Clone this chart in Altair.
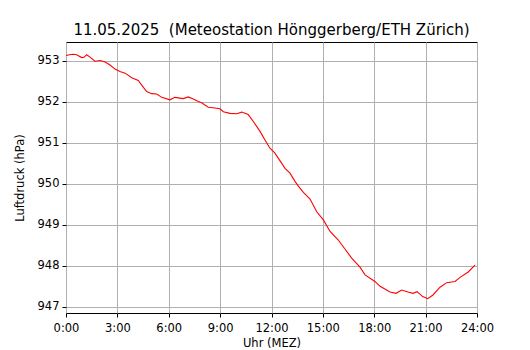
import altair as alt
import pandas as pd

hours = [0.0, 0.2, 0.43, 0.62, 0.92, 1.05, 1.21, 1.4, 1.69, 1.99, 2.28, 2.57, 2.86, 3.15, 3.45,
         3.84, 4.22, 4.42, 4.71, 5.0, 5.3, 5.59, 6.07, 6.36, 6.85, 7.14, 7.43, 7.73, 7.92, 8.31,
         8.7, 8.99, 9.19, 9.58, 9.97, 10.26, 10.64, 10.94, 11.33, 11.62, 11.91, 12.2, 12.5, 12.79,
         13.08, 13.37, 13.56, 13.86, 14.25, 14.64, 15.03, 15.42, 15.9, 16.29, 16.68, 17.17, 17.46,
         18.04, 18.34, 18.92, 19.27, 19.6, 19.97, 20.26, 20.5, 20.83, 21.12, 21.43, 21.84, 22.23,
         22.72, 23.01, 23.49, 23.88]
pressure = [953.13, 953.15, 953.16, 953.15, 953.08, 953.09, 953.15, 953.09, 952.99, 953.01, 952.97,
            952.90, 952.80, 952.74, 952.70, 952.59, 952.52, 952.41, 952.25, 952.20, 952.19, 952.11,
            952.05, 952.11, 952.08, 952.12, 952.07, 952.01, 951.98, 951.87, 951.85, 951.83, 951.76,
            951.72, 951.71, 951.75, 951.69, 951.52, 951.28, 951.07, 950.87, 950.75, 950.56, 950.38,
            950.26, 950.06, 949.95, 949.79, 949.63, 949.32, 949.12, 948.84, 948.63, 948.41, 948.19,
            947.97, 947.78, 947.62, 947.50, 947.36, 947.33, 947.41, 947.36, 947.33, 947.37, 947.25,
            947.20, 947.29, 947.48, 947.59, 947.62, 947.72, 947.85, 948.02]
x_ticks = [0, 3, 6, 9, 12, 15, 18, 21, 24]
y_ticks = [947, 948, 949, 950, 951, 952, 953]

df = pd.DataFrame({"h": hours, "p": pressure})

font = "DejaVu Sans"

chart = alt.Chart(df).mark_line(color="#ff0000", strokeWidth=1.1).encode(
    x=alt.X("h:Q", scale=alt.Scale(domain=[0, 24], nice=False),
            axis=alt.Axis(values=x_ticks, title="Uhr (MEZ)", labelFlush=False, labelPadding=5,
                          titlePadding=4,
                          labelExpr="format(datum.value, 'd') + ':00'")),
    y=alt.Y("p:Q", scale=alt.Scale(domain=[946.85, 953.46], nice=False, zero=False),
            axis=alt.Axis(values=y_ticks, title="Luftdruck (hPa)", format="d", labelFlush=False,
                          titlePadding=12)),
).properties(
    width=411, height=271,
    title=alt.TitleParams("11.05.2025\u00a0\u00a0(Meteostation Hönggerberg/ETH Zürich)",
                          font=font, fontSize=15, fontWeight="normal", color="black",
                          offset=4, anchor="middle"),
    autosize=alt.AutoSizeParams(type="none"),
    padding={"left": 58, "top": 34, "right": 45, "bottom": 37},
).configure_view(
    stroke="black", strokeWidth=1
).configure_axis(
    grid=True, gridColor="#b0b0b0", gridWidth=1, gridOpacity=1,
    domain=False, tickColor="black", tickSize=4, tickWidth=1,
    labelFont=font, labelFontSize=11.5, labelColor="black", labelPadding=3,
    titleFont=font, titleFontSize=11.5, titleFontWeight="normal", titleColor="black",
)

chart.save("out.html", embed_options={"renderer": "svg", "actions": False})
